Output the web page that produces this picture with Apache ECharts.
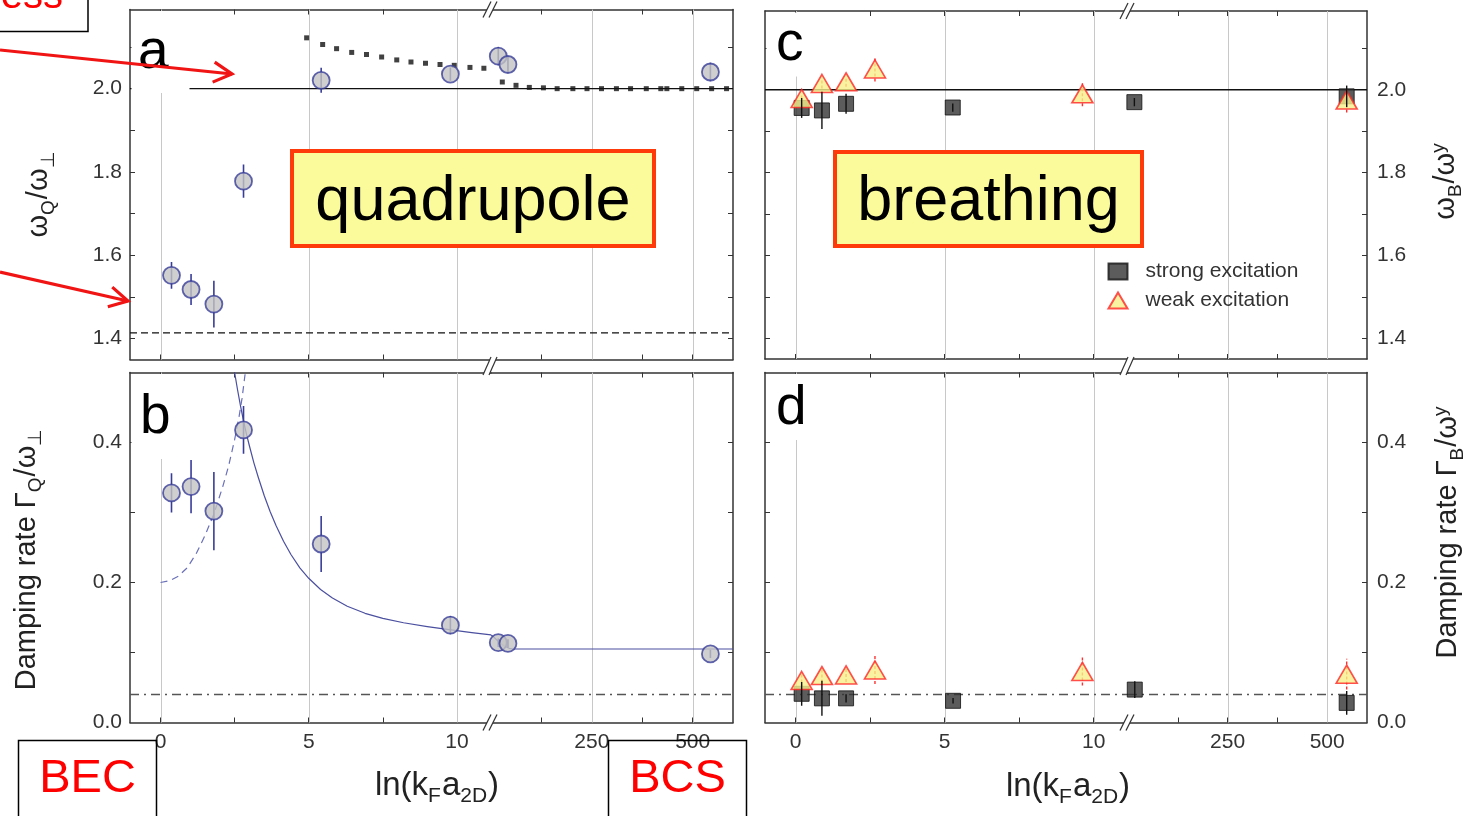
<!DOCTYPE html>
<html>
<head>
<meta charset="utf-8">
<script src="https://cdn.jsdelivr.net/npm/echarts@6/dist/echarts.min.js"></script>
<style>
  html, body { margin: 0; padding: 0; background: #ffffff; }
  #chart { width: 1474px; height: 816px; }
</style>
</head>
<body>
<div id="chart"></div>
<script>
// ---------------- axis ranges and ticks ----------------
// ln(kF a2D) axis is broken: a linear left segment and a compressed right segment
const xRangeLeft = [-1.03, 11.15];
const xRangeRight = [0, 600];
const freqRange = [1.35, 2.19];
const dampRange = [0, 0.5];

const xTicksLeft = [0, 2.5, 5, 7.5, 10];
const xLabelsLeft = [0, 5, 10];
const xTicksRight = [125, 250, 375, 500];
const xLabelsRight = [250, 500];
const xGridLeft = [0, 5, 10];
const xGridRight = [250, 500];
const freqTicks = [1.4, 1.5, 1.6, 1.7, 1.8, 1.9, 2.0, 2.1];
const freqLabels = [1.4, 1.6, 1.8, 2.0];
const dampTicks = [0.1, 0.2, 0.3, 0.4];
const dampLabels = [0, 0.2, 0.4];

// reference levels
const freqSolidLevel = [2.0];
const freqDashedLevel = [1.414];
const dampDashDotLevel = [0.04];

// ---------------- quadrupole mode: [x, value, error] ----------------
const quadFreqLeft = [[0.37, 1.552, 0.032], [1.03, 1.518, 0.037], [1.80, 1.483, 0.056], [2.80, 1.778, 0.040], [5.42, 2.020, 0.030], [9.78, 2.035, 0.016]];
const quadFreqRight = [[18, 2.078, 0.022], [42, 2.058, 0.020], [544, 2.040, 0.022]];
const quadDampLeft = [[0.37, 0.328, 0.028], [1.03, 0.337, 0.038], [1.80, 0.302, 0.056], [2.80, 0.418, 0.034], [5.42, 0.255, 0.040], [9.78, 0.139, 0.013]];
const quadDampRight = [[18, 0.114, 0.006], [42, 0.113, 0.006], [544, 0.098, 0.006]];

// theory for the quadrupole frequency (dotted)
const quadTheoryLeft = [[4.93, 2.122], [5.47, 2.106], [5.94, 2.096], [6.45, 2.087], [6.95, 2.082], [7.46, 2.076], [7.97, 2.069], [8.45, 2.064], [8.94, 2.061], [9.43, 2.058], [9.91, 2.056], [10.44, 2.051], [10.91, 2.049]];
const quadTheoryRight = [[28, 2.016], [62, 2.008], [95, 2.003], [130, 2.002], [164, 2.0], [203, 2.0], [238, 2.0], [274, 2.0], [311, 2.0], [346, 2.0], [385, 2.0], [421, 2.0], [436, 2.0], [473, 2.0], [510, 2.0], [547, 2.0], [584, 2.0]];

// guide curves for the quadrupole damping
const dampCurveLeft = [[2.50, 0.500], [2.60, 0.475], [2.70, 0.452], [2.80, 0.431], [2.90, 0.412], [3.00, 0.395], [3.15, 0.371], [3.30, 0.350], [3.50, 0.324], [3.70, 0.301], [3.90, 0.281], [4.15, 0.259], [4.40, 0.240], [4.70, 0.221], [5.00, 0.206], [5.40, 0.190], [5.80, 0.178], [6.30, 0.166], [6.90, 0.156], [7.50, 0.1488], [8.20, 0.1425], [9.00, 0.1370], [9.80, 0.1322], [10.50, 0.1284], [11.15, 0.1252]];
const dampCurveRight = [[0, 0.1252], [8, 0.1215], [16, 0.117], [25, 0.1125], [35, 0.1085], [45, 0.106], [55, 0.105], [600, 0.105]];
const dampDashedLeft = [[0.0, 0.200], [0.3, 0.2025], [0.6, 0.209], [0.9, 0.221], [1.2, 0.241], [1.5, 0.267], [1.8, 0.298], [2.1, 0.337], [2.3, 0.367], [2.5, 0.404], [2.65, 0.437], [2.75, 0.463], [2.83, 0.490], [2.86, 0.500]];

// ---------------- breathing mode: [x, value, error] ----------------
const strongFreqLeft = [[0.20, 1.956, 0.024], [0.88, 1.950, 0.045], [1.69, 1.966, 0.024], [5.27, 1.957, 0.010]];
const strongFreqRight = [[16, 1.970, 0.010], [549, 1.984, 0.026]];
const weakFreqLeft = [[0.20, 1.979, 0.012], [0.88, 2.015, 0.012], [1.69, 2.019, 0.012], [2.66, 2.050, 0.030], [9.62, 1.990, 0.030]];
const weakFreqRight = [[549, 1.975, 0.030]];
const strongDampLeft = [[0.20, 0.041, 0.017], [0.88, 0.0345, 0.025], [1.69, 0.0345, 0.006], [5.28, 0.031, 0.004]];
const strongDampRight = [[17, 0.047, 0.012], [549, 0.028, 0.017]];
const weakDampLeft = [[0.20, 0.060, 0.010], [0.88, 0.067, 0.010], [1.69, 0.068, 0.010], [2.66, 0.075, 0.020], [9.62, 0.073, 0.020]];
const weakDampRight = [[549, 0.069, 0.022]];

// ---------------- styling ----------------
const FONT = '"Liberation Sans", Arial, Helvetica, sans-serif';
const FRAME = '#333333';
const NAVY = '#383d98';
const GRIDLINE = '#c8c8c8';

// grids: a-left, a-right, b-left, b-right, c-left, c-right, d-left, d-right
const grids = [
  { left: 130, top: 9.5, width: 361, height: 350 },
  { left: 491, top: 9.5, width: 242, height: 350 },
  { left: 130, top: 372.5, width: 361, height: 350 },
  { left: 491, top: 372.5, width: 242, height: 350 },
  { left: 765, top: 11, width: 363, height: 348 },
  { left: 1128, top: 11, width: 239, height: 348 },
  { left: 765, top: 372.5, width: 363, height: 350 },
  { left: 1128, top: 372.5, width: 239, height: 350 }
].map(g => Object.assign({ containLabel: false, outerBoundsMode: 'none' }, g));

const isFreq = gi => gi === 0 || gi === 1 || gi === 4 || gi === 5;
const isRight = gi => gi % 2 === 1;
const yLabelled = gi => gi === 0 || gi === 2 || gi === 5 || gi === 7;
const xLabelled = gi => gi === 2 || gi === 3 || gi === 6 || gi === 7;

const labelStyle = { fontSize: 21, color: '#333', fontFamily: FONT };

const xAxes = [];
const yAxes = [];
grids.forEach((g, gi) => {
  const r = isRight(gi);
  ['bottom', 'top'].forEach(pos => {
    xAxes.push({
      type: 'value', gridIndex: gi, position: pos,
      min: r ? xRangeRight[0] : xRangeLeft[0],
      max: r ? xRangeRight[1] : xRangeLeft[1],
      axisLine: { show: true, onZero: false, lineStyle: { color: FRAME, width: 1.5 } },
      axisTick: { show: true, inside: true, length: 5, customValues: r ? xTicksRight : xTicksLeft, lineStyle: { color: FRAME, width: 1 } },
      axisLabel: Object.assign({ show: pos === 'bottom' && xLabelled(gi), customValues: r ? xLabelsRight : xLabelsLeft, margin: 9 }, labelStyle),
      splitLine: { show: false }
    });
  });
  const f = isFreq(gi);
  yAxes.push({
    type: 'value', gridIndex: gi, position: r ? 'right' : 'left',
    min: f ? freqRange[0] : dampRange[0],
    max: f ? freqRange[1] : dampRange[1],
    axisLine: { show: true, onZero: false, lineStyle: { color: FRAME, width: 1.5 } },
    axisTick: { show: true, inside: true, length: 5, customValues: f ? freqTicks : dampTicks, lineStyle: { color: FRAME, width: 1 } },
    axisLabel: Object.assign({
      show: yLabelled(gi), customValues: f ? freqLabels : dampLabels, margin: r ? 10 : 8,
      formatter: v => Number(v).toFixed(1)
    }, labelStyle),
    splitLine: { show: false }
  });
});

const series = [];
const axesOf = gi => ({ xAxisIndex: 2 * gi, yAxisIndex: gi });
const yMinOf = gi => (isFreq(gi) ? freqRange[0] : dampRange[0]);
const xMinOf = gi => (isRight(gi) ? xRangeRight[0] : xRangeLeft[0]);

function gridlines(gi, values) {
  series.push(Object.assign({
    type: 'custom', z: 1, silent: true, clip: false,
    data: values.map(v => [v, yMinOf(gi)]),
    renderItem: (p, api) => {
      const cs = p.coordSys;
      const x = Math.round(api.coord([api.value(0), api.value(1)])[0]) + 0.5;
      return { type: 'line', shape: { x1: x, y1: cs.y, x2: x, y2: cs.y + cs.height }, style: { stroke: GRIDLINE, lineWidth: 1 } };
    }
  }, axesOf(gi)));
}

function hline(gi, levels, color, width, dash) {
  series.push(Object.assign({
    type: 'custom', z: 2, silent: true, clip: false,
    data: levels.map(v => [xMinOf(gi), v]),
    renderItem: (p, api) => {
      const cs = p.coordSys;
      const y = api.coord([api.value(0), api.value(1)])[1];
      return { type: 'line', shape: { x1: cs.x, y1: y, x2: cs.x + cs.width, y2: y }, style: { stroke: color, lineWidth: width, lineDash: dash || null } };
    }
  }, axesOf(gi)));
}

function errorBars(gi, data, color, width, dash, z) {
  series.push(Object.assign({
    type: 'custom', z: z, silent: true, clip: true,
    data: data,
    renderItem: (p, api) => {
      const x = api.value(0), y = api.value(1), e = api.value(2);
      const a = api.coord([x, y - e]), b = api.coord([x, y + e]);
      return { type: 'line', shape: { x1: a[0], y1: a[1], x2: b[0], y2: b[1] }, style: { stroke: color, lineWidth: width, lineDash: dash || null } };
    }
  }, axesOf(gi)));
}

function markers(gi, data, name, symbol, size, itemStyle, z) {
  series.push(Object.assign({
    type: 'scatter', name: name, z: z, silent: true,
    symbol: symbol, symbolSize: size, itemStyle: itemStyle,
    data: data.map(d => [d[0], d[1]])
  }, axesOf(gi)));
}

function curve(gi, data, color, width, dash, z) {
  series.push(Object.assign({
    type: 'line', z: z, silent: true, showSymbol: false, symbol: 'none',
    smooth: false, clip: true,
    lineStyle: { color: color, width: width, type: dash || 'solid', join: 'round' },
    data: data
  }, axesOf(gi)));
}

const circleStyle = { color: '#c3c3c3', borderColor: NAVY, borderWidth: 1.8 };
const squareStyle = { color: '#333333', borderColor: '#111', borderWidth: 1 };
const triStyle = { color: '#f8f08a', borderColor: '#ff2424', borderWidth: 1.6 };

// vertical grid lines
[0, 2, 4, 6].forEach(gi => gridlines(gi, xGridLeft));
[1, 3, 5, 7].forEach(gi => gridlines(gi, xGridRight));

// panel a: quadrupole frequency
[0, 1].forEach(gi => {
  hline(gi, freqSolidLevel, '#111', 1.4);
  hline(gi, freqDashedLevel, '#111', 1.1, [7, 4]);
});
markers(0, quadTheoryLeft, 'theory', 'rect', 5, { color: '#111' }, 4);
markers(1, quadTheoryRight, 'theory', 'rect', 5, { color: '#111' }, 4);
errorBars(0, quadFreqLeft, NAVY, 1.6, null, 5);
errorBars(1, quadFreqRight, NAVY, 1.6, null, 5);
markers(0, quadFreqLeft, 'quadrupole', 'circle', 17, circleStyle, 6);
markers(1, quadFreqRight, 'quadrupole', 'circle', 17, circleStyle, 6);

// panel b: quadrupole damping
[2, 3].forEach(gi => hline(gi, dampDashDotLevel, '#555', 1.5, [9, 5, 2, 5]));
curve(2, dampCurveLeft, '#4a4f9f', 1.2, null, 3);
curve(3, dampCurveRight, '#4a4f9f', 1.2, null, 3);
curve(2, dampDashedLeft, '#6a70b8', 1.2, [7, 5], 3);
errorBars(2, quadDampLeft, NAVY, 1.6, null, 5);
errorBars(3, quadDampRight, NAVY, 1.6, null, 5);
markers(2, quadDampLeft, 'quadrupole damping', 'circle', 17, circleStyle, 6);
markers(3, quadDampRight, 'quadrupole damping', 'circle', 17, circleStyle, 6);

// panels c and d: breathing mode
[4, 5].forEach(gi => hline(gi, freqSolidLevel, '#111', 1.4));
[6, 7].forEach(gi => hline(gi, dampDashDotLevel, '#555', 1.5, [9, 5, 2, 5]));
[[4, strongFreqLeft, weakFreqLeft], [5, strongFreqRight, weakFreqRight],
 [6, strongDampLeft, weakDampLeft], [7, strongDampRight, weakDampRight]].forEach(([gi, strong, weak]) => {
  markers(gi, strong, 'strong excitation', 'rect', 15, squareStyle, 4);
  errorBars(gi, weak, '#ff3030', 1.4, [3, 2], 5);
  markers(gi, weak, 'weak excitation', 'triangle', [21, 18], triStyle, 6);
  errorBars(gi, strong, '#111', 1.4, null, 7);
});

// ---------------- text and annotation elements ----------------
const measure = document.createElement('canvas').getContext('2d');
// text with sub/superscripts laid out piece by piece around a centre point
function compoundText(parts, size, cx, cy, rotation) {
  const small = Math.round(size * 0.64);
  let pos = 0;
  const kids = [];
  parts.forEach(([t, role]) => {
    const fs = role === 'n' ? size : small;
    const font = fs + 'px ' + FONT;
    measure.font = font;
    const w = measure.measureText(t).width;
    const dy = role === 'sub' ? size * 0.32 : role === 'sup' ? -size * 0.24 : 0;
    kids.push({ type: 'text', x: pos, y: dy, style: { text: t, font: font, fill: '#222', align: 'left', verticalAlign: 'middle' } });
    pos += w + (role === 'n' ? 0 : 1);
  });
  kids.forEach(k => { k.x -= pos / 2; });
  return { type: 'group', x: cx, y: cy, rotation: rotation || 0, children: kids, z: 120 };
}

function breakMark(x, y, h) {
  return [
    { type: 'polygon', z: 110, shape: { points: [[x - 8, y + h], [x - 2, y + h], [x + 6, y - h], [x, y - h]] }, style: { fill: '#fff' } },
    { type: 'line', z: 111, shape: { x1: x - 8, y1: y + h, x2: x, y2: y - h }, style: { stroke: FRAME, lineWidth: 1.2 } },
    { type: 'line', z: 111, shape: { x1: x - 2, y1: y + h, x2: x + 6, y2: y - h }, style: { stroke: FRAME, lineWidth: 1.2 } }
  ];
}

function arrow(x1, y1, x2, y2) {
  const ang = Math.atan2(y2 - y1, x2 - x1);
  const len = 21, spread = 0.5;
  const w1 = [x2 - len * Math.cos(ang - spread), y2 - len * Math.sin(ang - spread)];
  const w2 = [x2 - len * Math.cos(ang + spread), y2 - len * Math.sin(ang + spread)];
  return [
    { type: 'line', z: 130, shape: { x1: x1, y1: y1, x2: x2, y2: y2 }, style: { stroke: '#f01414', lineWidth: 3.2 } },
    { type: 'polyline', z: 130, shape: { points: [w1, [x2, y2], w2] }, style: { stroke: '#f01414', lineWidth: 3.2, fill: null, lineJoin: 'miter' } }
  ];
}

function coverRect(x, y, w, h) {
  return { type: 'rect', z: 100, shape: { x: x, y: y, width: w, height: h }, style: { fill: '#fff' } };
}
function panelLetter(t, x, y) {
  return { type: 'text', z: 101, x: x, y: y, style: { text: t, font: '55px ' + FONT, fill: '#000', align: 'left', verticalAlign: 'middle' } };
}
function modeBox(t, x, y, w, h) {
  return [
    { type: 'rect', z: 105, shape: { x: x, y: y, width: w, height: h }, style: { fill: '#fbfb9c', stroke: '#ff3a0a', lineWidth: 4 } },
    { type: 'text', z: 106, x: x + w / 2, y: y + h / 2 + 4, style: { text: t, font: '63px ' + FONT, fill: '#000', align: 'center', verticalAlign: 'middle' } }
  ];
}
function regimeBox(t, x, y, w, h) {
  return [
    { type: 'rect', z: 125, shape: { x: x, y: y, width: w, height: h }, style: { fill: null, stroke: '#000', lineWidth: 1.5 } },
    { type: 'text', z: 126, x: x + w / 2, y: 779, style: { text: t, font: '47px ' + FONT, fill: '#ff0000', align: 'center', verticalAlign: 'middle' } }
  ];
}

const graphics = [].concat(
  coverRect(131.5, 11, 58, 82),
  coverRect(131.5, 374, 54, 85),
  coverRect(766.5, 12.5, 52, 64),
  coverRect(766.5, 374, 52, 66),
  panelLetter('a', 138, 53),
  panelLetter('b', 140, 418),
  panelLetter('c', 776, 45),
  panelLetter('d', 776, 409),
  modeBox('quadrupole', 292, 151, 362, 95),
  modeBox('breathing', 835, 152, 307, 94),
  breakMark(491, 9.5, 8), breakMark(491, 366, 9), breakMark(491, 722.5, 8),
  breakMark(1128, 11, 8), breakMark(1128, 366, 9), breakMark(1128, 722.5, 8),
  compoundText([['ω', 'n'], ['Q', 'sub'], ['/', 'n'], ['ω', 'n'], ['⊥', 'sub']], 29, 39, 194, Math.PI / 2),
  compoundText([['Damping rate Γ', 'n'], ['Q', 'sub'], ['/', 'n'], ['ω', 'n'], ['⊥', 'sub']], 29, 26.5, 559, Math.PI / 2),
  compoundText([['ω', 'n'], ['B', 'sub'], ['/', 'n'], ['ω', 'n'], ['y', 'sup']], 29, 1446, 181, Math.PI / 2),
  compoundText([['Damping rate Γ', 'n'], ['B', 'sub'], ['/', 'n'], ['ω', 'n'], ['y', 'sup']], 29, 1448, 532, Math.PI / 2),
  compoundText([['ln(k', 'n'], ['F', 'sub'], ['a', 'n'], ['2D', 'sub'], [')', 'n']], 33, 437, 785.5, 0),
  compoundText([['ln(k', 'n'], ['F', 'sub'], ['a', 'n'], ['2D', 'sub'], [')', 'n']], 33, 1068, 786.5, 0),
  regimeBox('BEC', 18.5, 740.5, 138, 90),
  regimeBox('BCS', 608.5, 740.5, 138, 90),
  [{ type: 'rect', z: 125, shape: { x: -2, y: -30, width: 90, height: 61.5 }, style: { fill: null, stroke: '#000', lineWidth: 1.5 } },
   { type: 'text', z: 126, x: 63, y: -3, style: { text: 'ess', font: '40px ' + FONT, fill: '#ff0000', align: 'right', verticalAlign: 'middle' } }],
  arrow(0, 50, 232, 74),
  arrow(0, 272, 128, 301)
);

const chart = echarts.init(document.getElementById('chart'), null, { renderer: 'canvas' });
chart.setOption({
  animation: false,
  backgroundColor: '#ffffff',
  textStyle: { fontFamily: FONT },
  grid: grids,
  xAxis: xAxes,
  yAxis: yAxes,
  legend: {
    show: true, orient: 'vertical', left: 1107.5, top: 261, padding: 0,
    itemWidth: 19, itemHeight: 16, itemGap: 8,
    selectedMode: false,
    textStyle: { fontSize: 21, color: '#333', fontFamily: FONT, padding: [0, 0, 0, 13] },
    data: [{ name: 'strong excitation', icon: 'rect' }, { name: 'weak excitation', icon: 'triangle' }]
  },
  series: series,
  graphic: { elements: graphics }
});
</script>
</body>
</html>
